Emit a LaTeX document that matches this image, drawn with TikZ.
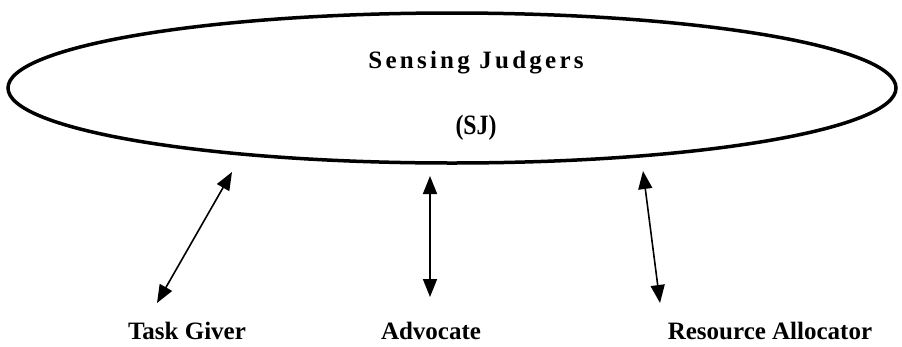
\documentclass[tikz,border=0pt]{standalone}
\usepackage{fontspec}
\setmainfont{Liberation Serif}
\usetikzlibrary{arrows.meta,shapes.geometric}
\begin{document}
\begin{tikzpicture}[x=1pt,y=-1pt,
  lbl/.style={font=\fontsize{25}{28}\selectfont\bfseries, inner sep=0pt},
  link/.style={line width=1.6pt, {Triangle[length=18pt,width=14pt]}-{Triangle[length=18pt,width=14pt]}}]
\useasboundingbox (0,0) rectangle (902,346);
\node[draw, line width=3.5pt, ellipse, minimum width=888pt, minimum height=150pt, inner sep=0pt] (sj) at (452,88) {};
\node[font=\fontsize{25}{28}\selectfont\bfseries\addfontfeatures{LetterSpace=13}, inner sep=0pt] (t1) at (476,63) {Sensing Judgers};
\node[font=\fontsize{28}{30}\selectfont\bfseries, xscale=0.85, inner sep=0pt] (t2) at (476,128) {(SJ)};
\node[lbl] (tg) at (187,331) {Task Giver};
\node[lbl] (ad) at (431,331) {Advocate};
\node[lbl] (ra) at (770,331) {Resource Allocator};
\coordinate (a1) at (232,172);
\coordinate (b1) at (157,303);
\coordinate (a2) at (430,176);
\coordinate (b2) at (430,297);
\coordinate (a3) at (643,171);
\coordinate (b3) at (660,303);
\draw[link] (a1) -- (b1);
\draw[link] (a2) -- (b2);
\draw[link] (a3) -- (b3);
\end{tikzpicture}
\end{document}
